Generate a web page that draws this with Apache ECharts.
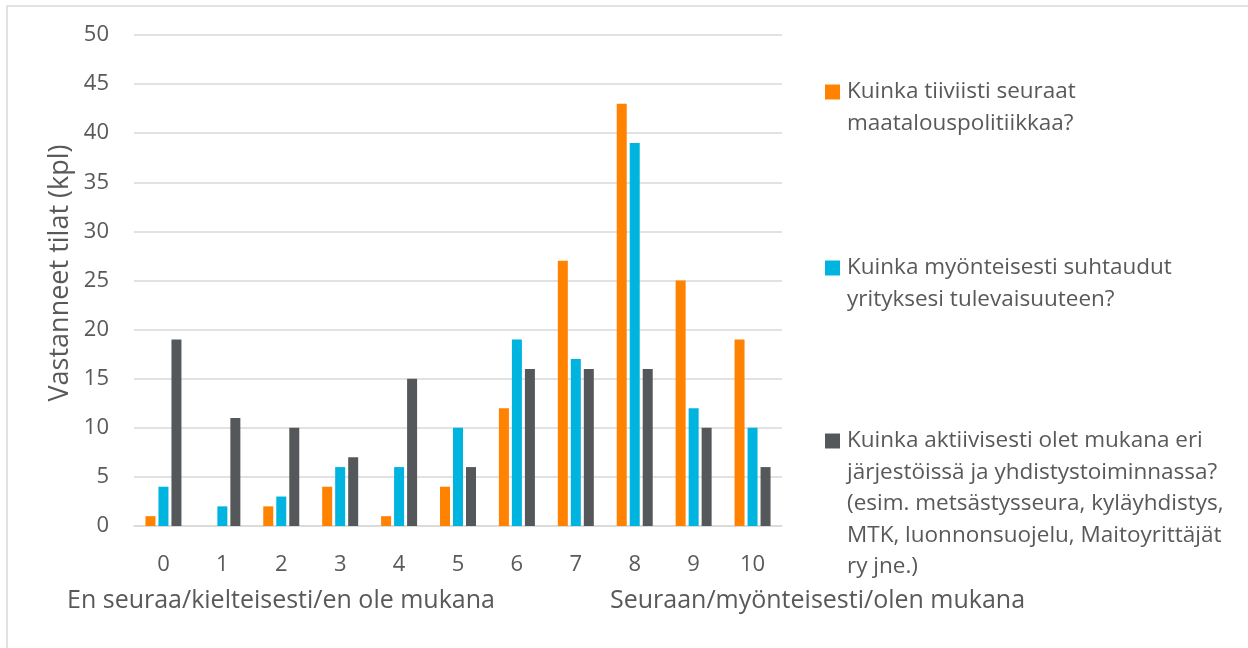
<!DOCTYPE html>
<html>
<head>
<meta charset="utf-8">
<script src="https://cdn.jsdelivr.net/npm/echarts@6/dist/echarts.min.js"></script>
<style>
  html, body { margin: 0; padding: 0; background: #ffffff; }
  #chart { width: 1248px; height: 648px; }
</style>
</head>
<body>
<div id="chart"></div>
<script>
// Answer scale 0..10 on the x axis
const categories = ['0', '1', '2', '3', '4', '5', '6', '7', '8', '9', '10'];

// Number of responding farms per answer
const politiikka = [1, 0, 2, 4, 1, 4, 12, 27, 43, 25, 19];
const tulevaisuus = [4, 2, 3, 6, 6, 10, 19, 17, 39, 12, 10];
const jarjestot = [19, 11, 10, 7, 15, 6, 16, 16, 16, 10, 6];

const seriesNames = [
  'Kuinka tiiviisti seuraat\nmaatalouspolitiikkaa?',
  'Kuinka myönteisesti suhtaudut\nyrityksesi tulevaisuuteen?',
  'Kuinka aktiivisesti olet mukana eri\njärjestöissä ja yhdistystoiminnassa?\n(esim. metsästysseura, kyläyhdistys,\nMTK, luonnonsuojelu, Maitoyrittäjät\nry jne.)'
];
const seriesData = [politiikka, tulevaisuus, jarjestot];

const yAxisTitle = 'Vastanneet tilat (kpl)';
const lowEndLabel = 'En seuraa/kielteisesti/en ole mukana';
const highEndLabel = 'Seuraan/myönteisesti/olen mukana';

const colors = ['#FF8200', '#00B4E0', '#54585A'];
const textColor = '#595959';
const fontFamily = '"Open Sans", "Noto Sans", sans-serif';

const chart = echarts.init(document.getElementById('chart'), null, { renderer: 'canvas' });

// Legend drawn as graphic blocks so wrapped names sit with the swatch on the first line
const legendTops = [92, 268, 441];
const legendGraphics = [];
seriesNames.forEach((name, i) => {
  legendGraphics.push({
    type: 'rect',
    shape: { x: 825, y: legendTops[i] - 7.5, width: 15, height: 15 },
    style: { fill: colors[i] }
  });
  legendGraphics.push({
    type: 'text',
    x: 847,
    y: legendTops[i] - 16,
    style: {
      text: name,
      fill: textColor,
      font: '22.5px ' + fontFamily,
      lineHeight: 31.5,
      verticalAlign: 'top',
      align: 'left'
    }
  });
});

const option = {
  backgroundColor: '#ffffff',
  animation: false,
  color: colors,
  grid: { left: 134, right: 466, top: 35, bottom: 122, containLabel: false },
  xAxis: {
    type: 'category',
    data: categories,
    axisLine: { show: true, lineStyle: { color: '#d9d9d9', width: 1.5 } },
    axisTick: { show: false },
    axisLabel: { color: textColor, fontSize: 22, fontFamily: fontFamily, margin: 28 }
  },
  yAxis: {
    type: 'value',
    min: 0,
    max: 50,
    interval: 5,
    axisLine: { show: false },
    axisTick: { show: false },
    axisLabel: { color: textColor, fontSize: 22, fontFamily: fontFamily, margin: 25 },
    splitLine: { lineStyle: { color: '#d9d9d9', width: 1.5 } }
  },
  series: seriesData.map((values, i) => ({
    type: 'bar',
    name: seriesNames[i],
    data: values,
    barWidth: 10,
    barGap: '30%',
    itemStyle: { color: colors[i] }
  })),
  graphic: [
    {
      type: 'rect',
      silent: true,
      shape: { x: 7, y: 6, width: 1400, height: 800 },
      style: { fill: 'none', stroke: '#d9d9d9', lineWidth: 1.5 }
    },
    {
      type: 'text',
      x: 60,
      y: 273,
      rotation: Math.PI / 2,
      style: {
        text: yAxisTitle,
        fill: textColor,
        font: '27px ' + fontFamily,
        align: 'center',
        verticalAlign: 'middle'
      }
    },
    {
      type: 'text',
      x: 67,
      y: 601,
      style: {
        text: lowEndLabel,
        fill: textColor,
        font: '25px ' + fontFamily,
        align: 'left',
        verticalAlign: 'middle'
      }
    },
    {
      type: 'text',
      x: 610,
      y: 601,
      style: {
        text: highEndLabel,
        fill: textColor,
        font: '25px ' + fontFamily,
        align: 'left',
        verticalAlign: 'middle'
      }
    }
  ].concat(legendGraphics)
};

chart.setOption(option);
</script>
</body>
</html>
